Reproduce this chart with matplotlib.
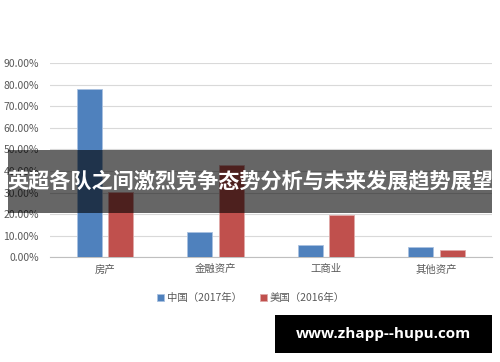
import numpy as np
import matplotlib
matplotlib.use("Agg")
import matplotlib.pyplot as plt
from matplotlib.patches import Rectangle
from matplotlib.ticker import FuncFormatter

plt.rcParams['font.family'] = ['Noto Sans CJK SC', 'DejaVu Sans']

# 数据
categories = ['房产', '金融资产', '工商业', '其他资产']
china_2017 = [77.8, 11.9, 5.7, 4.8]
usa_2016 = [30.4, 42.8, 19.6, 3.4]
series_names = ['中国（2017年）', '美国（2016年）']
title_text = '英超各队之间激烈竞争态势分析与未来发展趋势展望'
watermark = 'www.zhapp--hupu.com'

blue = '#4F81BD'
red = '#C0504D'
gray_txt = '#595959'

fig = plt.figure(figsize=(5, 3.62), dpi=100)
ax = fig.add_axes([0.10, 0.289, 0.884, 0.537])

x = np.arange(len(categories))
w = 0.225
ax.bar(x - 0.145, china_2017, w, color=blue, edgecolor='#a9c1e0', linewidth=0.6,
       label=series_names[0], zorder=3)
ax.bar(x + 0.14, usa_2016, w, color=red, edgecolor='#e0a9a8', linewidth=0.6,
       label=series_names[1], zorder=3)

ax.set_xlim(-0.5, len(categories) - 0.5)
ax.set_ylim(0, 90)
ax.set_yticks(np.arange(0, 91, 10))
ax.yaxis.set_major_formatter(FuncFormatter(lambda v, p: f'{v:.2f}%'))
ax.grid(axis='y', color='#d9d9d9', linewidth=0.8, zorder=0)
ax.set_xticks(x)
ax.set_xticklabels(categories)
for s in ['top', 'right', 'left']:
    ax.spines[s].set_visible(False)
ax.spines['bottom'].set_color('#bfbfbf')
ax.tick_params(axis='both', length=0, colors=gray_txt, labelsize=7.5)
ax.tick_params(axis='x', pad=5)
ax.tick_params(axis='y', pad=8)

ax.legend(loc='upper center', bbox_to_anchor=(0.455, -0.135), ncol=2, frameon=False,
          fontsize=7.5, handlelength=0.6, handleheight=0.6, handletextpad=0.3,
          columnspacing=1.8, labelcolor=gray_txt)

# 标题横幅
fig.patches.append(Rectangle((8 / 500, 1 - 213 / 362), 484 / 500, 63 / 362,
                             transform=fig.transFigure, facecolor='black',
                             alpha=0.6, zorder=5))
fig.text(0.5, 1 - 181 / 362, title_text, color='white', fontsize=15.2,
         fontweight='bold', ha='center', va='center', zorder=6)

# 水印
fig.patches.append(Rectangle((275 / 500, 1 - 353 / 362), 217 / 500, 38 / 362,
                             transform=fig.transFigure, facecolor='black', zorder=5))
fig.text(383.5 / 500, 1 - 334 / 362, watermark, color='white', fontsize=11,
         fontweight='bold', ha='center', va='center', zorder=6,
         family=['Open Sans', 'DejaVu Sans'])

fig.savefig('out.png', dpi=100)
